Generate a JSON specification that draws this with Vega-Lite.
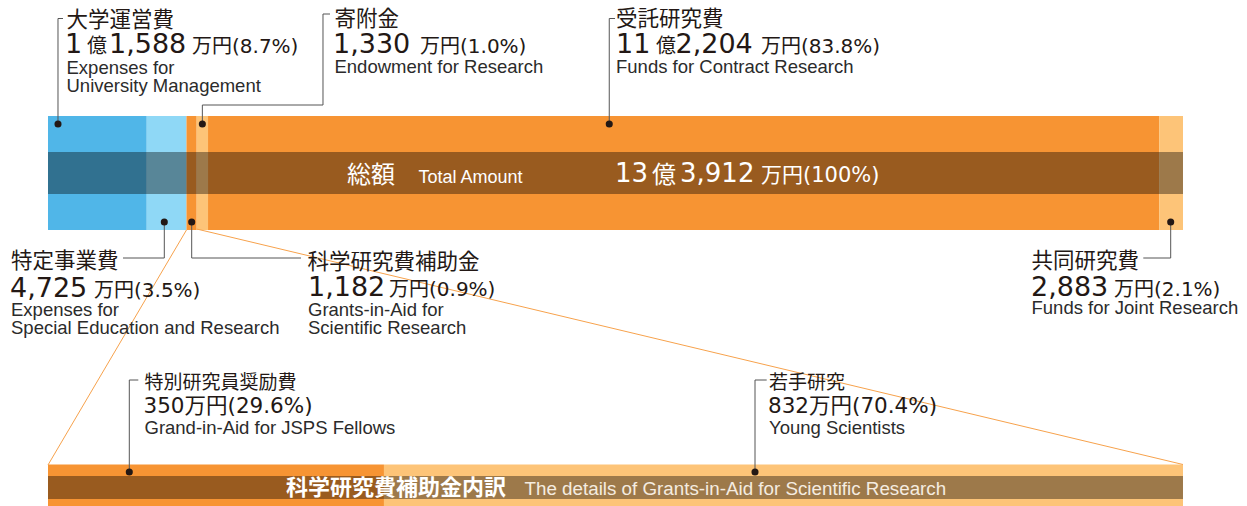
{
  "$schema": "https://vega.github.io/schema/vega-lite/v6.json",
  "width": 1247,
  "height": 506,
  "padding": 0,
  "autosize": {"type": "fit", "contains": "padding"},
  "background": "#ffffff",
  "config": {"view": {"stroke": null}},
  "datasets": {
    "top": [
      {"cat": "大学運営費", "pct": 8.7, "order": 1},
      {"cat": "特定事業費", "pct": 3.5, "order": 2},
      {"cat": "科学研究費補助金", "pct": 0.9, "order": 3},
      {"cat": "寄附金", "pct": 1.0, "order": 4},
      {"cat": "受託研究費", "pct": 83.8, "order": 5},
      {"cat": "共同研究費", "pct": 2.1, "order": 6}
    ],
    "sub": [
      {"cat": "特別研究員奨励費", "pct": 29.6, "order": 1},
      {"cat": "若手研究", "pct": 70.4, "order": 2}
    ],
    "links": [
      {"x": 12.2, "y": 230, "x2": 0, "y2": 465},
      {"x": 13.1, "y": 229, "x2": 100, "y2": 464.5}
    ],
    "leaders": [
      {"id": 1, "seq": 1, "x": 0.881, "y": 124}, {"id": 1, "seq": 2, "x": 0.881, "y": 18.5}, {"id": 1, "seq": 3, "x": 1.322, "y": 18.5},
      {"id": 2, "seq": 1, "x": 13.6, "y": 124}, {"id": 2, "seq": 2, "x": 13.6, "y": 105}, {"id": 2, "seq": 3, "x": 24.229, "y": 105}, {"id": 2, "seq": 4, "x": 24.229, "y": 14}, {"id": 2, "seq": 5, "x": 24.846, "y": 14},
      {"id": 3, "seq": 1, "x": 49.45, "y": 124}, {"id": 3, "seq": 2, "x": 49.45, "y": 18.5}, {"id": 3, "seq": 3, "x": 49.96, "y": 18.5},
      {"id": 4, "seq": 1, "x": 10.247, "y": 222}, {"id": 4, "seq": 2, "x": 10.247, "y": 258}, {"id": 4, "seq": 3, "x": 6.608, "y": 258},
      {"id": 5, "seq": 1, "x": 12.661, "y": 222}, {"id": 5, "seq": 2, "x": 12.661, "y": 258}, {"id": 5, "seq": 3, "x": 22.291, "y": 258},
      {"id": 6, "seq": 1, "x": 98.916, "y": 222}, {"id": 6, "seq": 2, "x": 98.916, "y": 258}, {"id": 6, "seq": 3, "x": 96.502, "y": 258},
      {"id": 7, "seq": 1, "x": 7.163, "y": 472}, {"id": 7, "seq": 2, "x": 7.163, "y": 380}, {"id": 7, "seq": 3, "x": 7.956, "y": 380},
      {"id": 8, "seq": 1, "x": 62.291, "y": 472}, {"id": 8, "seq": 2, "x": 62.291, "y": 380}, {"id": 8, "seq": 3, "x": 63.322, "y": 380}
    ],
    "dots": [
      {"x": 0.881, "y": 124}, {"x": 13.6, "y": 124}, {"x": 49.45, "y": 124},
      {"x": 10.247, "y": 222}, {"x": 12.661, "y": 222}, {"x": 98.916, "y": 222},
      {"x": 7.163, "y": 472}, {"x": 62.291, "y": 472}
    ],
    "titles": [
      {"x": 1.630, "y": 26.5, "text": "大学運営費"},
      {"x": 25.242, "y": 25.5, "text": "寄附金"},
      {"x": 50.044, "y": 26, "text": "受託研究費"},
      {"x": -3.260, "y": 268, "text": "特定事業費"},
      {"x": 22.863, "y": 268.5, "text": "科学研究費補助金"},
      {"x": 86.652, "y": 267.5, "text": "共同研究費"}
    ],
    "titles2": [
      {"x": 8.502, "y": 389, "text": "特別研究員奨励費"},
      {"x": 63.524, "y": 389, "text": "若手研究"}
    ],
    "nums": [
      {"x": 1.498, "y": 53, "text": "1"},
      {"x": 5.374, "y": 53, "text": "1,588"},
      {"x": 25.110, "y": 53, "text": "1,330"},
      {"x": 50.044, "y": 53, "text": "11"},
      {"x": 55.286, "y": 53, "text": "2,204"},
      {"x": -3.348, "y": 296.5, "text": "4,725"},
      {"x": 22.907, "y": 296, "text": "1,182"},
      {"x": 86.608, "y": 296, "text": "2,883"}
    ],
    "units": [
      {"x": 3.436, "y": 53, "text": "億"},
      {"x": 12.687, "y": 53, "text": "万円(8.7%)"},
      {"x": 32.775, "y": 53, "text": "万円(1.0%)"},
      {"x": 53.568, "y": 53, "text": "億"},
      {"x": 62.819, "y": 53, "text": "万円(83.8%)"},
      {"x": 4.053, "y": 296.5, "text": "万円(3.5%)"},
      {"x": 30.044, "y": 296, "text": "万円(0.9%)"},
      {"x": 93.921, "y": 296, "text": "万円(2.1%)"}
    ],
    "mids": [
      {"x": 8.414, "y": 413, "text": "350万円(29.6%)"},
      {"x": 63.436, "y": 413, "text": "832万円(70.4%)"}
    ],
    "en": [
      {"x": 1.630, "y": 74, "text": "Expenses for"},
      {"x": 1.630, "y": 92, "text": "University Management"},
      {"x": 25.242, "y": 73, "text": "Endowment for Research"},
      {"x": 50.044, "y": 73, "text": "Funds for Contract Research"},
      {"x": -3.260, "y": 316, "text": "Expenses for"},
      {"x": -3.260, "y": 334, "text": "Special Education and Research"},
      {"x": 22.907, "y": 316, "text": "Grants-in-Aid for"},
      {"x": 22.907, "y": 334, "text": "Scientific Research"},
      {"x": 86.652, "y": 314, "text": "Funds for Joint Research"},
      {"x": 8.502, "y": 434, "text": "Grand-in-Aid for JSPS Fellows"},
      {"x": 63.524, "y": 434, "text": "Young Scientists"}
    ],
    "cjp": [
      {"x": 26.344, "y": 182.5, "text": "総額"},
      {"x": 53.216, "y": 182.5, "text": "億"}
    ],
    "cen": [{"x": 32.643, "y": 183, "text": "Total Amount"}],
    "cnum": [
      {"x": 49.956, "y": 182, "text": "13"},
      {"x": 55.683, "y": 182, "text": "3,912"}
    ],
    "cunit": [
      {"x": 62.819, "y": 182, "text": "万円(100%)"}
    ],
    "sjp": [{"x": 20.969, "y": 494.5, "text": "科学研究費補助金内訳"}],
    "sen": [{"x": 41.982, "y": 495, "text": "The details of Grants-in-Aid for Scientific Research"}]
  },
  "layer": [
    {
      "data": {"name": "top"},
      "transform": [{"stack": "pct", "groupby": [], "sort": [{"field": "order"}], "as": ["x0", "x1"]}],
      "mark": {"type": "rect"},
      "encoding": {
        "x": {"field": "x0", "type": "quantitative", "scale": {"domain": [-4.229, 105.639], "nice": false, "zero": false}, "axis": null},
        "x2": {"field": "x1"},
        "y": {"datum": 116, "type": "quantitative", "scale": {"domain": [0, 506], "reverse": true, "nice": false, "zero": false}, "axis": null},
        "y2": {"datum": 230},
        "color": {"field": "cat", "type": "nominal", "legend": null,
          "scale": {"domain": ["大学運営費", "特定事業費", "科学研究費補助金", "寄附金", "受託研究費", "共同研究費", "特別研究員奨励費", "若手研究"],
                    "range": ["#50b6e8", "#8fd8f6", "#f79433", "#fdc478", "#f79433", "#fdc478", "#f79433", "#fdc478"]}}
      }
    },
    {
      "data": {"name": "sub"},
      "transform": [{"stack": "pct", "groupby": [], "sort": [{"field": "order"}], "as": ["x0", "x1"]}],
      "mark": {"type": "rect"},
      "encoding": {
        "x": {"field": "x0", "type": "quantitative", "scale": {"domain": [-4.229, 105.639], "nice": false, "zero": false}, "axis": null},
        "x2": {"field": "x1"},
        "y": {"datum": 464.5, "type": "quantitative", "scale": {"domain": [0, 506], "reverse": true, "nice": false, "zero": false}, "axis": null},
        "y2": {"datum": 506},
        "color": {"field": "cat", "type": "nominal", "legend": null}
      }
    },
    {
      "data": {"values": [{"b": "top", "y": 152, "y2": 194}, {"b": "sub", "y": 476, "y2": 499}]},
      "mark": {"type": "rect", "fill": "#000000", "opacity": 0.38},
      "encoding": {
        "x": {"datum": 0, "type": "quantitative", "scale": {"domain": [-4.229, 105.639], "nice": false, "zero": false}, "axis": null},
        "x2": {"datum": 100},
        "y": {"field": "y", "type": "quantitative", "scale": {"domain": [0, 506], "reverse": true, "nice": false, "zero": false}, "axis": null},
        "y2": {"field": "y2"}
      }
    },
    {
      "data": {"name": "links"},
      "mark": {"type": "rule", "color": "#f7a24c", "strokeWidth": 1},
      "encoding": {
        "x": {"field": "x", "type": "quantitative", "scale": {"domain": [-4.229, 105.639], "nice": false, "zero": false}, "axis": null},
        "x2": {"field": "x2"},
        "y": {"field": "y", "type": "quantitative", "scale": {"domain": [0, 506], "reverse": true, "nice": false, "zero": false}, "axis": null},
        "y2": {"field": "y2"}
      }
    },
    {
      "data": {"name": "leaders"},
      "mark": {"type": "line", "color": "#555555", "strokeWidth": 1, "interpolate": "linear"},
      "encoding": {
        "x": {"field": "x", "type": "quantitative", "scale": {"domain": [-4.229, 105.639], "nice": false, "zero": false}, "axis": null},
        "y": {"field": "y", "type": "quantitative", "scale": {"domain": [0, 506], "reverse": true, "nice": false, "zero": false}, "axis": null},
        "detail": {"field": "id", "type": "nominal"},
        "order": {"field": "seq", "type": "quantitative"}
      }
    },
    {
      "data": {"name": "dots"},
      "mark": {"type": "point", "filled": true, "color": "#231815", "opacity": 1, "size": 50, "shape": "circle"},
      "encoding": {
        "x": {"field": "x", "type": "quantitative", "scale": {"domain": [-4.229, 105.639], "nice": false, "zero": false}, "axis": null},
        "y": {"field": "y", "type": "quantitative", "scale": {"domain": [0, 506], "reverse": true, "nice": false, "zero": false}, "axis": null}
      }
    },
    {
      "data": {"name": "titles"},
      "mark": {"type": "text", "align": "left", "baseline": "alphabetic", "font": "'Noto Sans CJK JP'", "fontSize": 21.5, "color": "#231815"},
      "encoding": {
        "x": {"field": "x", "type": "quantitative", "scale": {"domain": [-4.229, 105.639], "nice": false, "zero": false}, "axis": null},
        "y": {"field": "y", "type": "quantitative", "scale": {"domain": [0, 506], "reverse": true, "nice": false, "zero": false}, "axis": null},
        "text": {"field": "text"}
      }
    },
    {
      "data": {"name": "titles2"},
      "mark": {"type": "text", "align": "left", "baseline": "alphabetic", "font": "'Noto Sans CJK JP'", "fontSize": 19, "color": "#231815"},
      "encoding": {
        "x": {"field": "x", "type": "quantitative", "scale": {"domain": [-4.229, 105.639], "nice": false, "zero": false}, "axis": null},
        "y": {"field": "y", "type": "quantitative", "scale": {"domain": [0, 506], "reverse": true, "nice": false, "zero": false}, "axis": null},
        "text": {"field": "text"}
      }
    },
    {
      "data": {"name": "nums"},
      "mark": {"type": "text", "align": "left", "baseline": "alphabetic", "font": "'DejaVu Sans'", "fontSize": 27, "color": "#231815"},
      "encoding": {
        "x": {"field": "x", "type": "quantitative", "scale": {"domain": [-4.229, 105.639], "nice": false, "zero": false}, "axis": null},
        "y": {"field": "y", "type": "quantitative", "scale": {"domain": [0, 506], "reverse": true, "nice": false, "zero": false}, "axis": null},
        "text": {"field": "text"}
      }
    },
    {
      "data": {"name": "units"},
      "mark": {"type": "text", "align": "left", "baseline": "alphabetic", "font": "'DejaVu Sans', 'Noto Sans CJK JP'", "fontSize": 20, "color": "#231815"},
      "encoding": {
        "x": {"field": "x", "type": "quantitative", "scale": {"domain": [-4.229, 105.639], "nice": false, "zero": false}, "axis": null},
        "y": {"field": "y", "type": "quantitative", "scale": {"domain": [0, 506], "reverse": true, "nice": false, "zero": false}, "axis": null},
        "text": {"field": "text"}
      }
    },
    {
      "data": {"name": "mids"},
      "mark": {"type": "text", "align": "left", "baseline": "alphabetic", "font": "'DejaVu Sans', 'Noto Sans CJK JP'", "fontSize": 21.5, "color": "#231815"},
      "encoding": {
        "x": {"field": "x", "type": "quantitative", "scale": {"domain": [-4.229, 105.639], "nice": false, "zero": false}, "axis": null},
        "y": {"field": "y", "type": "quantitative", "scale": {"domain": [0, 506], "reverse": true, "nice": false, "zero": false}, "axis": null},
        "text": {"field": "text"}
      }
    },
    {
      "data": {"name": "en"},
      "mark": {"type": "text", "align": "left", "baseline": "alphabetic", "font": "'Liberation Sans'", "fontSize": 18.5, "color": "#2b2b2b"},
      "encoding": {
        "x": {"field": "x", "type": "quantitative", "scale": {"domain": [-4.229, 105.639], "nice": false, "zero": false}, "axis": null},
        "y": {"field": "y", "type": "quantitative", "scale": {"domain": [0, 506], "reverse": true, "nice": false, "zero": false}, "axis": null},
        "text": {"field": "text"}
      }
    },
    {
      "data": {"name": "cjp"},
      "mark": {"type": "text", "align": "left", "baseline": "alphabetic", "font": "'Noto Sans CJK JP'", "fontSize": 24, "color": "#ffffff"},
      "encoding": {
        "x": {"field": "x", "type": "quantitative", "scale": {"domain": [-4.229, 105.639], "nice": false, "zero": false}, "axis": null},
        "y": {"field": "y", "type": "quantitative", "scale": {"domain": [0, 506], "reverse": true, "nice": false, "zero": false}, "axis": null},
        "text": {"field": "text"}
      }
    },
    {
      "data": {"name": "cen"},
      "mark": {"type": "text", "align": "left", "baseline": "alphabetic", "font": "'Liberation Sans'", "fontSize": 18, "color": "#ffffff"},
      "encoding": {
        "x": {"field": "x", "type": "quantitative", "scale": {"domain": [-4.229, 105.639], "nice": false, "zero": false}, "axis": null},
        "y": {"field": "y", "type": "quantitative", "scale": {"domain": [0, 506], "reverse": true, "nice": false, "zero": false}, "axis": null},
        "text": {"field": "text"}
      }
    },
    {
      "data": {"name": "cnum"},
      "mark": {"type": "text", "align": "left", "baseline": "alphabetic", "font": "'DejaVu Sans'", "fontSize": 26, "color": "#ffffff"},
      "encoding": {
        "x": {"field": "x", "type": "quantitative", "scale": {"domain": [-4.229, 105.639], "nice": false, "zero": false}, "axis": null},
        "y": {"field": "y", "type": "quantitative", "scale": {"domain": [0, 506], "reverse": true, "nice": false, "zero": false}, "axis": null},
        "text": {"field": "text"}
      }
    },
    {
      "data": {"name": "cunit"},
      "mark": {"type": "text", "align": "left", "baseline": "alphabetic", "font": "'DejaVu Sans', 'Noto Sans CJK JP'", "fontSize": 21, "color": "#ffffff"},
      "encoding": {
        "x": {"field": "x", "type": "quantitative", "scale": {"domain": [-4.229, 105.639], "nice": false, "zero": false}, "axis": null},
        "y": {"field": "y", "type": "quantitative", "scale": {"domain": [0, 506], "reverse": true, "nice": false, "zero": false}, "axis": null},
        "text": {"field": "text"}
      }
    },
    {
      "data": {"name": "sjp"},
      "mark": {"type": "text", "align": "left", "baseline": "alphabetic", "font": "'Noto Sans CJK JP'", "fontSize": 22, "fontWeight": "bold", "color": "#ffffff"},
      "encoding": {
        "x": {"field": "x", "type": "quantitative", "scale": {"domain": [-4.229, 105.639], "nice": false, "zero": false}, "axis": null},
        "y": {"field": "y", "type": "quantitative", "scale": {"domain": [0, 506], "reverse": true, "nice": false, "zero": false}, "axis": null},
        "text": {"field": "text"}
      }
    },
    {
      "data": {"name": "sen"},
      "mark": {"type": "text", "align": "left", "baseline": "alphabetic", "font": "'Liberation Sans'", "fontSize": 18.8, "color": "#f5ece0"},
      "encoding": {
        "x": {"field": "x", "type": "quantitative", "scale": {"domain": [-4.229, 105.639], "nice": false, "zero": false}, "axis": null},
        "y": {"field": "y", "type": "quantitative", "scale": {"domain": [0, 506], "reverse": true, "nice": false, "zero": false}, "axis": null},
        "text": {"field": "text"}
      }
    }
  ]
}
